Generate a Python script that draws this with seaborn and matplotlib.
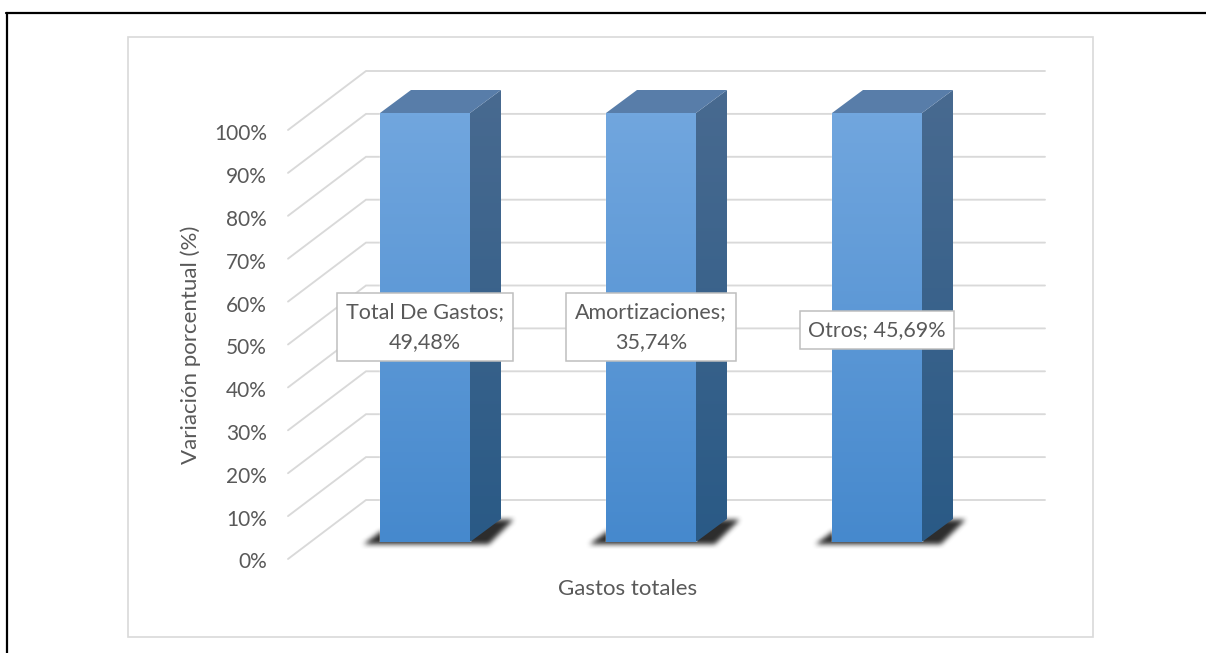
import numpy as np
import pandas as pd
import matplotlib
matplotlib.use("Agg")
import matplotlib.pyplot as plt
from matplotlib.lines import Line2D
from matplotlib.patches import Polygon, Rectangle
from matplotlib.path import Path
import seaborn as sns

categories = ["Total De Gastos", "Amortizaciones", "Otros"]
bar_heights = [100, 100, 100]
label_values = ["49,48%", "35,74%", "45,69%"]
tick_values = [0, 10, 20, 30, 40, 50, 60, 70, 80, 90, 100]
x_title = "Gastos totales"
y_title = "Variación porcentual (%)"

W, H = 1206, 653
sns.set_theme(style="white")
plt.rcParams['font.family'] = ['Lato', 'DejaVu Sans']
TXT = "#595959"
FS = 16

fig = plt.figure(figsize=(W / 100, H / 100), dpi=100, facecolor="white")
# axes placed so that categories fall at 425/651/877 px, and 0-100 at 542/113 px
ax = fig.add_axes([312 / W, 1 - 542 / H, 678 / W, 429 / H])
ax.patch.set_alpha(0)
df = pd.DataFrame({"cat": categories, "v": bar_heights})
sns.barplot(data=df, x="cat", y="v", ax=ax, width=90 / 226, color="#5B9BD5",
            saturation=1, zorder=4)
XU, YU = 226.0, 4.29   # pixels per data unit
xlim, ylim = (-0.5, 2.5), (0, 100)

def to_x(px):
    return px / XU

def to_y(px):
    return px / YU

# ---- wall / floor gridlines
floor_left, wall_left, wall_right = (288 - 425) / XU, (366 - 425) / XU, (1045 - 425) / XU
for v in tick_values:
    ax.plot([floor_left, wall_left, wall_right],
            [v - to_y(17), v + to_y(42), v + to_y(42)],
            color="#D9D9D9", lw=1.35, clip_on=False, zorder=1,
            solid_joinstyle="miter")

# ---- 3D faces
def vgrad(top, bottom, n=128):
    a, b = np.array(top) / 255, np.array(bottom) / 255
    t = np.linspace(0, 1, n)[:, None]
    return (a * (1 - t) + b * t)[:, None, :]

DX, DY = to_x(31), to_y(23)
for p in list(ax.patches):
    x0, y0, w, h = p.get_x(), p.get_y(), p.get_width(), p.get_height()
    x1, y1 = x0 + w, y0 + h
    # blurred floor shadow (local pixel grid, y grows downward from the bar foot)
    gx = np.arange(-40, 170)
    gy = np.arange(-50, 20)
    XX, YY = np.meshgrid(gx, gy)
    poly = Path([(-17, 1), (0, -12), (90, -12), (101, -24), (133, -24), (108, 1)])
    mask = poly.contains_points(np.c_[XX.ravel(), YY.ravel()]).reshape(XX.shape).astype(float)
    k = np.ones(6) / 6
    for _ in range(2):
        mask = np.apply_along_axis(lambda r: np.convolve(r, k, mode="same"), 0, mask)
        mask = np.apply_along_axis(lambda r: np.convolve(r, k, mode="same"), 1, mask)
    rgba = np.zeros(mask.shape + (4,))
    rgba[..., :3] = 0.13
    rgba[..., 3] = mask * 0.95
    ax.imshow(rgba, aspect="auto", zorder=2, interpolation="bilinear",
              extent=(x0 + to_x(gx[0]), x0 + to_x(gx[-1]),
                      y0 - to_y(gy[-1]), y0 - to_y(gy[0])),
              clip_on=False)
    # front gradient
    ax.imshow(vgrad((113, 166, 222), (70, 137, 205)), aspect="auto", zorder=5,
              extent=(x0, x1, y0, y1))
    # side face
    side = Polygon([(x1, y0), (x1 + DX, y0 + DY), (x1 + DX, y1 + DY), (x1, y1)],
                   closed=True, transform=ax.transData, fc="none", ec="none", zorder=5,
                   clip_on=False)
    ax.add_patch(side)
    im = ax.imshow(vgrad((72, 106, 144), (42, 90, 134)), aspect="auto", zorder=5,
                   extent=(x1, x1 + DX, y0, y1 + DY))
    im.set_clip_box(fig.bbox)
    im.set_clip_path(side)
    # top face
    ax.add_patch(Polygon([(x0, y1), (x1, y1), (x1 + DX, y1 + DY), (x0 + DX, y1 + DY)],
                         closed=True, fc="#587DA9", ec="none", zorder=5, clip_on=False))

ax.set_xlim(*xlim)
ax.set_ylim(*ylim)
for s in ax.spines.values():
    s.set_visible(False)
ax.tick_params(left=False, bottom=False, labelleft=False, labelbottom=False)
ax.grid(False)

# ---- labels
for i, (c, v) in enumerate(zip(categories, label_values)):
    wrapped = len(c) > 5
    sep = ";\n" if wrapped else "; "
    ax.text(i, 50.1 if wrapped else 49.4, f"{c}{sep}{v}", ha="center", va="center", ma="center",
            fontsize=15.5, color=TXT, zorder=8, linespacing=1.62,
            bbox=dict(boxstyle="square,pad=0.40", fc="white", ec="#BFBFBF", lw=1.1))

ax.set_xlabel(x_title, fontsize=FS, color=TXT)
ax.xaxis.label.set_va("center")
ax.xaxis.set_label_coords((628 - 312) / 678, -(589 - 542) / 429)
ax.set_ylabel(y_title, fontsize=FS, color=TXT)
ax.yaxis.label.set_va("center")
ax.yaxis.set_label_coords((191 - 312) / 678, (542 - 345) / 429)

# ---- value axis, sits on the front edge of the floor
ax_t = fig.add_axes([288 / W, 1 - 560.5 / H, 10 / W, 428 / H])
ax_t.patch.set_alpha(0)
ax_t.set_ylim(0, 100)
ax_t.set_yticks(tick_values)
ax_t.set_yticklabels([f"{v}%" for v in tick_values], fontsize=15, color=TXT)
ax_t.tick_params(left=False, bottom=False, labelbottom=False, pad=9.2)
for s in ax_t.spines.values():
    s.set_visible(False)
ax_t.grid(False)

# ---- chart frame and page borders
fig.add_artist(Rectangle((127.5 / W, 1 - 637 / H), 965 / W, 600 / H, transform=fig.transFigure,
                         fc="none", ec="#D9D9D9", lw=1.2, zorder=-1))
fig.add_artist(Line2D([5.5 / W, 1], [1 - 13 / H, 1 - 13 / H], color="black", lw=1.6))
fig.add_artist(Line2D([6.5 / W, 6.5 / W], [0, 1 - 13 / H], color="black", lw=1.6))

fig.savefig("out.png", dpi=100)
